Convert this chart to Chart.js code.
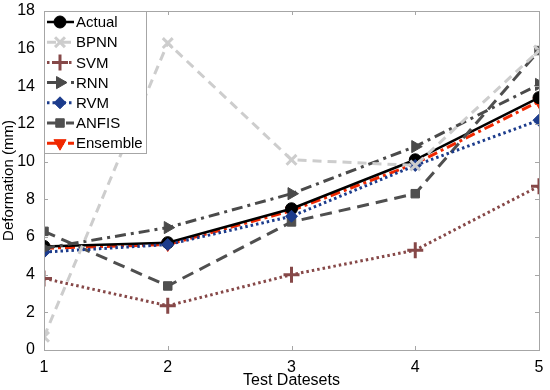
<!DOCTYPE html>
<html>
<head>
<meta charset="utf-8">
<script src="https://cdn.jsdelivr.net/npm/chart.js@4"></script>
<style>
  body { margin: 0; background: #fff; }
  #wrap { width: 550px; height: 390px; }
</style>
</head>
<body>
<div id="wrap"><canvas id="c"></canvas></div>
<script>
var testSets = [1, 2, 3, 4, 5];
var actual   = [5.5, 5.7, 7.5, 10.1, 13.4];
var bpnn     = [0.7, 16.3, 10.1, 9.8, 15.9];
var svm      = [3.8, 2.35, 4.0, 5.3, 8.7];
var rnn      = [5.4, 6.5, 8.3, 10.8, 14.1];
var rvm      = [5.2, 5.6, 7.1, 9.8, 12.2];
var anfis    = [6.3, 3.4, 6.8, 8.3, 15.9];
var ensemble = [5.4, 5.6, 7.4, 9.9, 13.2];
var yTicks   = [0, 2, 4, 6, 8, 10, 12, 14, 16, 18];

function pts(arr) {
  return arr.map((v, i) => ({ x: testSets[i], y: v }));
}

function series(label, arr, color, dash, width, style, radius, rot) {
  return {
    label: label,
    data: pts(arr),
    borderColor: color,
    backgroundColor: color,
    borderDash: dash,
    borderWidth: width,
    pointStyle: style,
    pointRadius: radius,
    pointRotation: rot || 0,
    pointBorderWidth: (style == 'cross' || style == 'crossRot') ? 3 : 1,
    tension: 0,
    fill: false
  };
}

var datasets = [
  series("BPNN", bpnn, "#cdcdcd", [9, 6], 3, "crossRot", 7),
  series("SVM", svm, "#864848", [2.5, 3], 3, "cross", 8),
  series("RNN", rnn, "#4a4a4a", [11, 5, 3, 5], 3, "triangle", 7, 90),
  series("RVM", rvm, "#1c3c8c", [2.5, 3], 3, "rectRot", 6),
  series("ANFIS", anfis, "#4f4f4f", [12, 7], 3, "rect", 6),
  series("Actual", actual, "#000000", [], 2.5, "circle", 6),
  series("Ensemble", ensemble, "#f02800", [10, 4, 3, 4], 3, "triangle", 7, 180)
];

var legendOrder = ["Actual", "BPNN", "SVM", "RNN", "RVM", "ANFIS", "Ensemble"];

// frame, inward ticks and legend box
const extras = {
  id: "extras",
  afterDraw(chart) {
    const ctx = chart.ctx, a = chart.chartArea;
    const xs = chart.scales.x, ys = chart.scales.y;
    ctx.save();
    ctx.strokeStyle = "#a6a6a6";
    ctx.lineWidth = 1;
    ctx.setLineDash([]);
    ctx.strokeRect(a.left + 0.5, a.top + 0.5, a.right - a.left, a.bottom - a.top);
    ctx.beginPath();
    testSets.forEach(v => {
      const x = Math.round(xs.getPixelForValue(v)) + 0.5;
      ctx.moveTo(x, a.bottom); ctx.lineTo(x, a.bottom - 4);
      ctx.moveTo(x, a.top); ctx.lineTo(x, a.top + 4);
    });
    yTicks.forEach(v => {
      const y = Math.round(ys.getPixelForValue(v)) + 0.5;
      ctx.moveTo(a.left, y); ctx.lineTo(a.left + 4, y);
      ctx.moveTo(a.right, y); ctx.lineTo(a.right - 4, y);
    });
    ctx.stroke();

    // legend
    const bx = a.left, by = a.top, bw = 102, rowH = 20.2;
    const bh = 142;
    ctx.fillStyle = "#fff";
    ctx.fillRect(bx, by, bw, bh);
    ctx.strokeStyle = "#a6a6a6";
    ctx.strokeRect(bx + 0.5, by + 0.5, bw, bh);
    ctx.font = "15px 'Liberation Sans', Arial, sans-serif";
    ctx.textBaseline = "middle";
    legendOrder.forEach((name, i) => {
      const ds = chart.data.datasets.find(d => d.label == name);
      const y = by + 11 + i * rowH;
      ctx.strokeStyle = ds.borderColor;
      ctx.lineWidth = ds.borderWidth;
      ctx.setLineDash(ds.borderDash);
      ctx.beginPath();
      ctx.moveTo(bx + 3, y); ctx.lineTo(bx + 30, y);
      ctx.stroke();
      ctx.setLineDash([]);
      ctx.fillStyle = ds.borderColor;
      ctx.lineWidth = ds.pointBorderWidth;
      Chart.helpers.drawPoint(ctx, {
        pointStyle: ds.pointStyle, radius: ds.pointRadius,
        rotation: ds.pointRotation, borderWidth: ds.pointBorderWidth
      }, bx + 16, y);
      ctx.fillStyle = "#000";
      ctx.fillText(name, bx + 32, y + 1);
    });
    ctx.restore();
  }
};

new Chart(document.getElementById("c"), {
  type: "line",
  data: { datasets: datasets },
  options: {
    responsive: true,
    maintainAspectRatio: false,
    animation: false,
    layout: { padding: { top: 8, right: 9, left: 0, bottom: 0 } },
    plugins: { legend: { display: false }, tooltip: { enabled: false } },
    scales: {
      x: {
        type: "linear",
        min: 1, max: 5,
        afterBuildTicks: s => { s.ticks = testSets.map(v => ({ value: v })); },
        afterFit: s => { s.height = 40; },
        grid: { display: false },
        border: { display: false },
        ticks: { color: "#000", padding: 0, font: { size: 16, family: "'Liberation Sans', Arial, sans-serif" } },
        title: { display: true, text: "Test Datesets", color: "#000", padding: 0,
                 font: { size: 16, family: "'Liberation Sans', Arial, sans-serif" } }
      },
      y: {
        min: 0, max: 18,
        afterBuildTicks: s => { s.ticks = yTicks.map(v => ({ value: v })); },
        afterFit: s => { s.width = 44; },
        grid: { display: false },
        border: { display: false },
        ticks: { color: "#000", padding: 1, font: { size: 16, family: "'Liberation Sans', Arial, sans-serif" } },
        title: { display: true, text: "Deformation (mm)", color: "#000", padding: { top: 0, bottom: 0 },
                 font: { size: 15, family: "'Liberation Sans', Arial, sans-serif" } }
      }
    }
  },
  plugins: [extras]
});
</script>
</body>
</html>
